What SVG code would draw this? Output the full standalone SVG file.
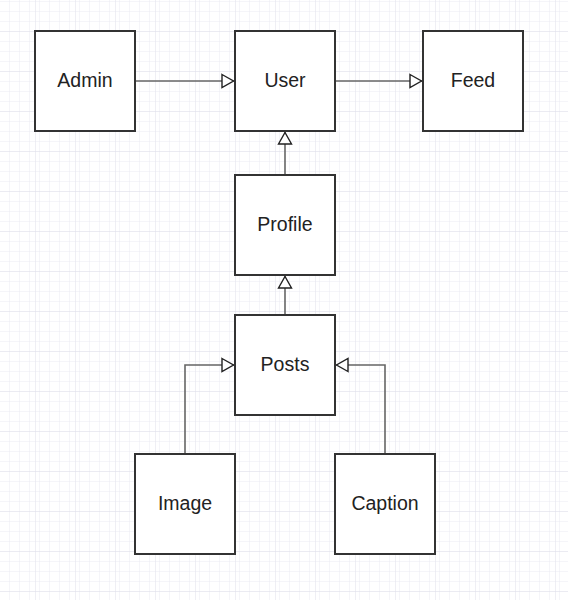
<svg xmlns="http://www.w3.org/2000/svg" width="568" height="600" viewBox="0 0 568 600">
<defs>
<pattern id="minor" width="10" height="10" patternUnits="userSpaceOnUse" x="5" y="1">
<path d="M10 0V10M0 10H10" fill="none" stroke="#ebebf2" stroke-width="1"/>
</pattern>
<pattern id="major" width="40" height="40" patternUnits="userSpaceOnUse" x="35" y="31">
<rect width="40" height="40" fill="url(#minor)"/>
<path d="M0 0V40M0 0H40" fill="none" stroke="#e0e0ea" stroke-width="1"/>
</pattern>
<marker id="tri" viewBox="0 0 14 16" refX="13.5" refY="8" markerWidth="14" markerHeight="16" markerUnits="userSpaceOnUse" orient="auto">
<path d="M1.5 1.5L13 8L1.5 14.5Z" fill="#fff" stroke="#222" stroke-width="1.4"/>
</marker>
</defs>
<style>
.box{fill:#fff;stroke:#333;stroke-width:2}
.lbl{font-family:"Liberation Sans",Arial,sans-serif;font-size:19.5px;fill:#222;text-anchor:middle;dominant-baseline:central}
.edge{fill:none;stroke:#666;stroke-width:1.6;marker-end:url(#tri)}
</style>
<rect width="568" height="600" fill="#fff"/>
<rect width="568" height="600" fill="url(#major)"/>
<g id="connectors">
<path class="edge" d="M135 81H234"/>
<path class="edge" d="M335 81H422"/>
<path class="edge" d="M285 175V132"/>
<path class="edge" d="M285 315V276"/>
<path class="edge" d="M185 454V365H234"/>
<path class="edge" d="M385 454V365H336"/>
</g>
<g id="admin"><rect class="box" x="35" y="31" width="100" height="100"/><text class="lbl" x="85" y="80">Admin</text></g>
<g id="user"><rect class="box" x="235" y="31" width="100" height="100"/><text class="lbl" x="285" y="80">User</text></g>
<g id="feed"><rect class="box" x="423" y="31" width="100" height="100"/><text class="lbl" x="473" y="80">Feed</text></g>
<g id="profile"><rect class="box" x="235" y="175" width="100" height="100"/><text class="lbl" x="285" y="224">Profile</text></g>
<g id="posts"><rect class="box" x="235" y="315" width="100" height="100"/><text class="lbl" x="285" y="364">Posts</text></g>
<g id="image"><rect class="box" x="135" y="454" width="100" height="100"/><text class="lbl" x="185" y="503">Image</text></g>
<g id="caption"><rect class="box" x="335" y="454" width="100" height="100"/><text class="lbl" x="385" y="503">Caption</text></g>
</svg>
